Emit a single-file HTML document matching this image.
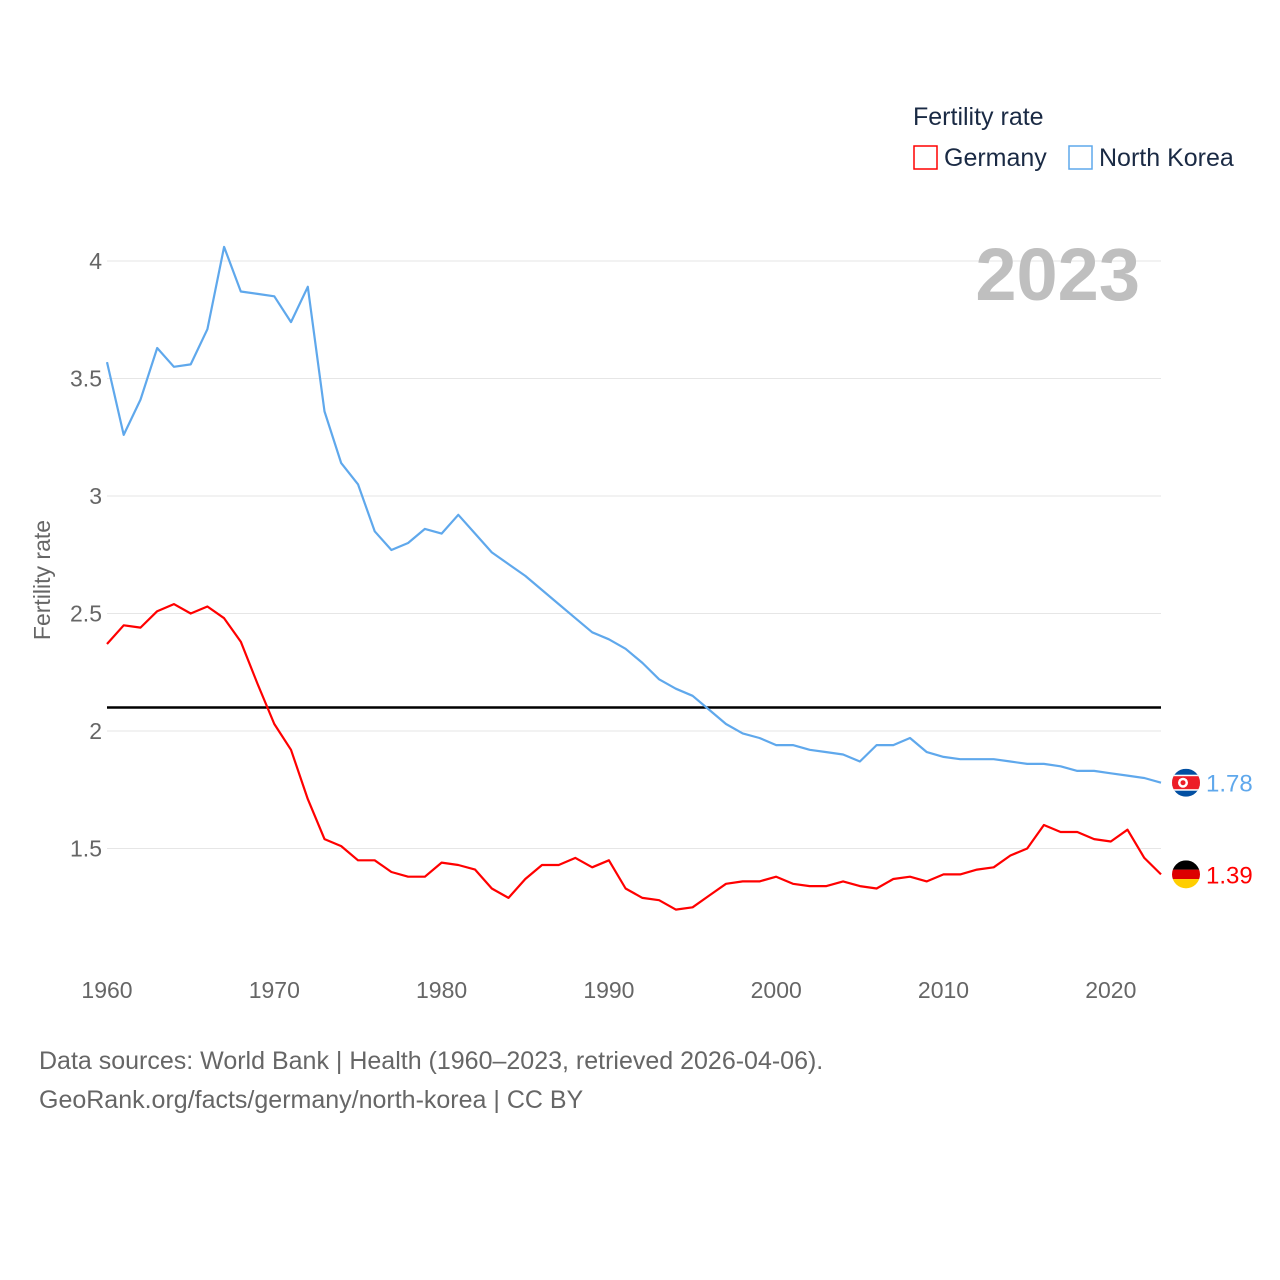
<!DOCTYPE html>
<html><head><meta charset="utf-8"><style>
html,body{margin:0;padding:0;background:#fff;}
svg{display:block;font-family:"Liberation Sans",sans-serif;}
</style></head><body>
<svg id="chart" width="1280" height="1280" viewBox="0 0 1280 1280">
<rect width="1280" height="1280" fill="#fff"/>
<g id="grid"></g>
<g id="yticks"></g>
<g id="xticks"></g>
<text transform="translate(50,580) rotate(-90)" text-anchor="middle" font-size="23" fill="#666">Fertility rate</text>
<text x="1140" y="300" text-anchor="end" font-size="74" font-weight="bold" fill="#bfbfbf">2023</text>
<g>
<text x="913" y="125" font-size="25" fill="#1a2a44">Fertility rate</text>
<rect x="914" y="146" width="23" height="23" fill="none" stroke="#ff0000" stroke-width="1.5"/>
<text x="944" y="166" font-size="25" fill="#1a2a44">Germany</text>
<rect x="1069" y="146" width="23" height="23" fill="none" stroke="#5fa8ec" stroke-width="1.5"/>
<text x="1099" y="166" font-size="25" fill="#1a2a44">North Korea</text>
</g>
<g id="series"></g>
<g>
<text x="39" y="1069" font-size="25" fill="#666">Data sources: World Bank | Health (1960–2023, retrieved 2026-04-06).</text>
<text x="39" y="1108" font-size="25" fill="#666">GeoRank.org/facts/germany/north-korea | CC BY</text>
</g>
</svg>
<script>
const years = [];
for (let y = 1960; y <= 2023; y++) years.push(y);
const northKorea = [3.57,3.26,3.41,3.63,3.55,3.56,3.71,4.06,3.87,3.86,3.85,3.74,3.89,3.36,3.14,3.05,2.85,2.77,2.80,2.86,2.84,2.92,2.84,2.76,2.71,2.66,2.60,2.54,2.48,2.42,2.39,2.35,2.29,2.22,2.18,2.15,2.09,2.03,1.99,1.97,1.94,1.94,1.92,1.91,1.90,1.87,1.94,1.94,1.97,1.91,1.89,1.88,1.88,1.88,1.87,1.86,1.86,1.85,1.83,1.83,1.82,1.81,1.80,1.78];
const germany = [2.37,2.45,2.44,2.51,2.54,2.50,2.53,2.48,2.38,2.20,2.03,1.92,1.71,1.54,1.51,1.45,1.45,1.40,1.38,1.38,1.44,1.43,1.41,1.33,1.29,1.37,1.43,1.43,1.46,1.42,1.45,1.33,1.29,1.28,1.24,1.25,1.30,1.35,1.36,1.36,1.38,1.35,1.34,1.34,1.36,1.34,1.33,1.37,1.38,1.36,1.39,1.39,1.41,1.42,1.47,1.50,1.60,1.57,1.57,1.54,1.53,1.58,1.46,1.39];
const yTicks = [1.5,2,2.5,3,3.5,4];
const yTickLabels = ["1.5","2","2.5","3","3.5","4"];
const xTicks = [1960,1970,1980,1990,2000,2010,2020];
const referenceValue = [2.1];

const NS = "http://www.w3.org/2000/svg";
function xs(v){ return 107 + (v - 1960) * (1161 - 107) / 63; }
function ys(v){ return 731 - (v - 2) * 235; }
function mk(tag, attrs, parent){ const e = document.createElementNS(NS, tag); for (const k in attrs) e.setAttribute(k, attrs[k]); parent.appendChild(e); return e; }

const grid = document.getElementById('grid');
const yt = document.getElementById('yticks');
yTicks.forEach((t, i) => {
  const l = mk('line', {x1:107, x2:1161, y1:ys(t), y2:ys(t), stroke:'#e6e6e6', 'stroke-width':1}, grid);
  
  
  const tx = mk('text', {x:102, y:ys(t)+8, 'text-anchor':'end', 'font-size':23, fill:'#666'}, yt);
  tx.textContent = yTickLabels[i];
  
  
});
const xt = document.getElementById('xticks');
xTicks.forEach(t => {
  const tx = mk('text', {x:xs(t), y:998, 'text-anchor':'middle', 'font-size':23, fill:'#666'}, xt);
  tx.textContent = String(t);
  
  
});

const ser = document.getElementById('series');
const ref = mk('line', {x1:107, x2:1161, y1:ys(referenceValue[0]), y2:ys(referenceValue[0]), stroke:'#000', 'stroke-width':2.5}, ser);



function drawLine(vals, color, name){
  const d = vals.map((v, i) => (i ? 'L' : 'M') + xs(years[i]).toFixed(1) + ',' + ys(v).toFixed(1)).join(' ');
  const p = mk('path', {d:d, fill:'none', stroke:color, 'stroke-width':2.2, 'stroke-linejoin':'round'}, ser);
  
  
}
drawLine(northKorea, '#5fa8ec', 'north-korea');
drawLine(germany, '#ff0000', 'germany');

function flag(cx, cy, kind){
  const g = mk('g', {}, ser);
  
  
  const clipId = 'clip-' + kind;
  const cp = mk('clipPath', {id:clipId}, g);
  mk('circle', {cx:cx, cy:cy, r:14}, cp);
  const inner = mk('g', {'clip-path':'url(#' + clipId + ')'}, g);
  if (kind === 'germany') {
    mk('rect', {x:cx-14, y:cy-14, width:28, height:9.4, fill:'#000'}, inner);
    mk('rect', {x:cx-14, y:cy-4.7, width:28, height:9.4, fill:'#dd0000'}, inner);
    mk('rect', {x:cx-14, y:cy+4.7, width:28, height:9.4, fill:'#ffce00'}, inner);
  } else {
    mk('rect', {x:cx-14, y:cy-14, width:28, height:28, fill:'#024fa2'}, inner);
    mk('rect', {x:cx-14, y:cy-8, width:28, height:16, fill:'#fff'}, inner);
    mk('rect', {x:cx-14, y:cy-6.5, width:28, height:13, fill:'#ed1c27'}, inner);
    mk('circle', {cx:cx-3, cy:cy, r:5, fill:'#fff'}, inner);
    mk('circle', {cx:cx-3, cy:cy, r:2.5, fill:'#ed1c27'}, inner);
  }
}
const last = years.length - 1;
flag(1186, ys(northKorea[last]), 'north-korea');
flag(1186, ys(germany[last]), 'germany');
const l1 = mk('text', {x:1206, y:ys(northKorea[last])+9, 'font-size':24, fill:'#5fa8ec'}, ser);
l1.textContent = northKorea[last].toFixed(2);


const l2 = mk('text', {x:1206, y:ys(germany[last])+9, 'font-size':24, fill:'#ff0000'}, ser);
l2.textContent = germany[last].toFixed(2);


</script>
</body></html>
